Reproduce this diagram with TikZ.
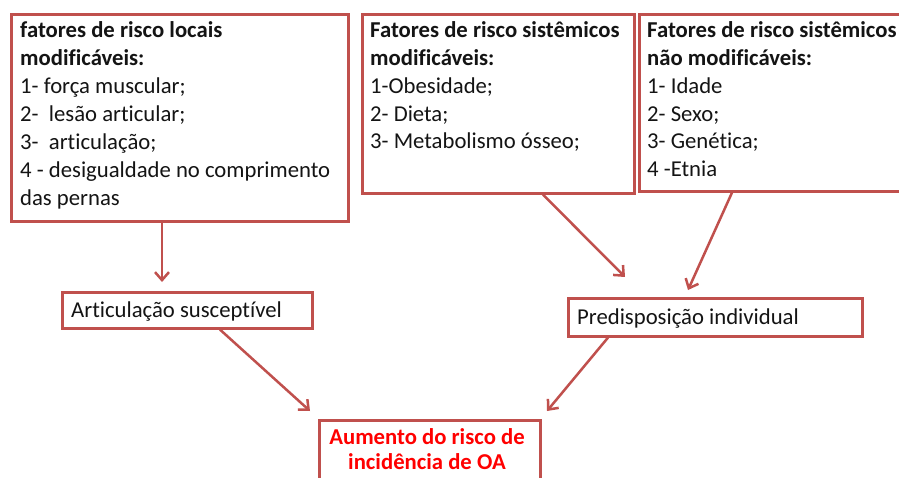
\documentclass[tikz,border=0pt]{standalone}
\usepackage{fontspec}
\setmainfont{Carlito}[Ligatures=NoCommon]
\usetikzlibrary{arrows.meta}
\definecolor{boxred}{RGB}{192,80,77}
\definecolor{txtcol}{RGB}{20,20,20}
\definecolor{hired}{RGB}{255,0,0}
\tikzset{
  box/.style={draw=boxred, line width=2.6pt, fill=white, rectangle, inner sep=0pt, anchor=north west},
  ln/.style={anchor=base west, inner sep=0pt, font=\fontsize{22.7}{27}\selectfont, text=txtcol},
  arr/.style={draw=boxred, line width=2.5pt, -{Straight Barb[length=8pt,width=14pt,line width=2.5pt]}},
}
\begin{document}
\begin{tikzpicture}[x=1pt,y=-1pt]
\useasboundingbox (0,0) rectangle (899,478);
\clip (0,0) rectangle (899,478);
\fill[white] (0,0) rectangle (899,478);
% boxes
\node[box, minimum width=337pt, minimum height=207pt] (b1) at (10,13) {};
\node[box, minimum width=272pt, minimum height=179pt] (b2) at (361,13) {};
\node[box, minimum width=272pt, minimum height=177pt] (b3) at (638,13) {};
\node[box, minimum width=250pt, minimum height=36pt] (art) at (61,291) {};
\node[box, minimum width=294pt, minimum height=38pt] (pre) at (567,297) {};
\node[box, minimum width=221pt, minimum height=90pt] (aum) at (318,419) {};
% texts box 1
\foreach \t [count=\i from 0] in {{\textbf{fatores de risco locais}},{\textbf{modificáveis:}},1- força muscular;,2-\ \ lesão articular;,3-\ \ articulação;,4 - desigualdade no comprimento,das pernas}
  \node[ln] (b1l\i) at (20,{38+28*\i}) {\t};
% box 2
\foreach \t [count=\i from 0] in {{\textbf{Fatores de risco sistêmicos}},{\textbf{modificáveis:}},1-Obesidade;,2- Dieta;,3- Metabolismo ósseo;}
  \node[ln] (b2l\i) at (370,{38+27.7*\i}) {\t};
% box 3
\foreach \t [count=\i from 0] in {{\textbf{Fatores de risco sistêmicos}},{\textbf{não modificáveis:}},1- Idade,2- Sexo;,3- Genética;,4 -Etnia}
  \node[ln] (b3l\i) at (647,{38+27.7*\i}) {\t};
\node[ln] (artt) at (71,317) {Articulação susceptível};
\node[ln] (pret) at (577,324) {Predisposição individual};
\node[ln, anchor=base, text=hired] (aum1) at (427,444) {\textbf{Aumento do risco de}};
\node[ln, anchor=base, text=hired] (aum2) at (427,469) {\textbf{incidência de OA}};
% arrow coordinates
\coordinate (x1) at (162,0);
\coordinate (x2) at (543,0);
\coordinate (x3) at (732,0);
\coordinate (x4) at (220,0);
\coordinate (x5) at (608,0);
\coordinate (t2) at (625,277);
\coordinate (t3) at (688,290);
\coordinate (t4) at (310,411);
\coordinate (t5) at (547,411);
\draw[arr, shorten >=9pt] (b1.south -| x1) -- (art.north -| x1);
\draw[arr] (b2.south -| x2) -- (t2);
\draw[arr] (b3.south -| x3) -- (t3);
\draw[arr] (art.south -| x4) -- (t4);
\draw[arr] (pre.south -| x5) -- (t5);
\end{tikzpicture}
\end{document}
